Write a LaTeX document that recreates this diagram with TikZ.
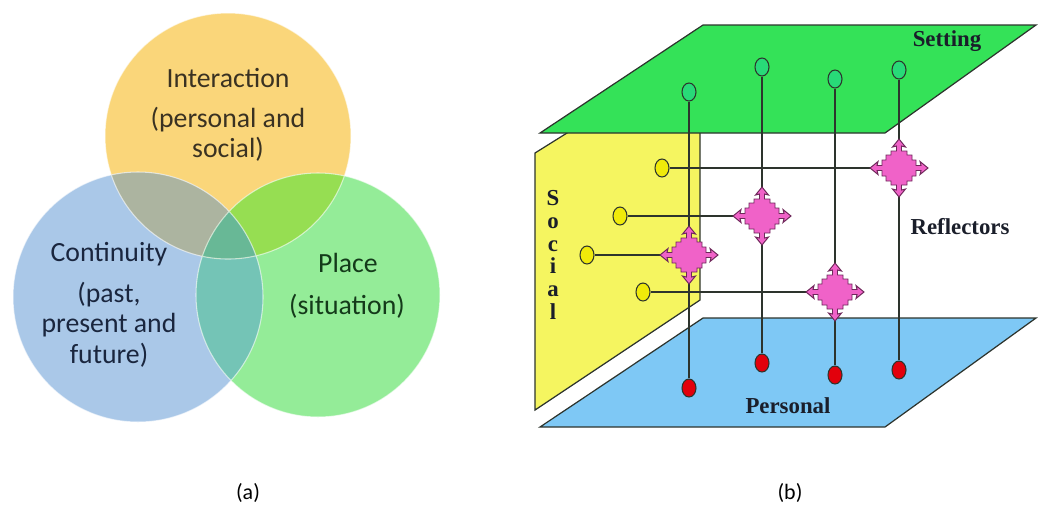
\documentclass[tikz,border=0pt]{standalone}
\usepackage{fontspec}
\setmainfont{Liberation Serif}
\newfontfamily\vennfont{Carlito}
\usetikzlibrary{shapes.geometric}

% Venn colours
\definecolor{vyel}{RGB}{250,214,122}
\definecolor{vblu}{RGB}{170,200,232}
\definecolor{vgrn}{RGB}{148,236,152}
\definecolor{vyb}{RGB}{172,180,160}
\definecolor{vyg}{RGB}{150,222,82}
\definecolor{vbg}{RGB}{116,196,182}
\definecolor{vybg}{RGB}{104,184,150}
\definecolor{tyel}{RGB}{58,50,34}
\definecolor{tblu}{RGB}{26,38,62}
\definecolor{tgrn}{RGB}{20,58,26}
% cube colours
\definecolor{pgreen}{RGB}{52,226,88}
\definecolor{pyellow}{RGB}{245,245,96}
\definecolor{pblue}{RGB}{126,200,245}
\definecolor{edge}{RGB}{45,52,45}
\definecolor{ballg}{RGB}{40,218,120}
\definecolor{bally}{RGB}{240,234,10}
\definecolor{ballr}{RGB}{226,0,12}
\definecolor{reflfill}{RGB}{240,98,200}
\definecolor{refledge}{RGB}{110,40,90}
\definecolor{labelc}{RGB}{26,30,42}

\tikzset{
  venntext/.style={font=\vennfont\fontsize{15.8}{17.2}\selectfont, align=center, inner sep=0},
  plane/.style={draw=edge, line width=0.7pt, line join=miter},
  ball/.style={ellipse, draw=edge, line width=0.6pt, minimum width=0.28cm, minimum height=0.36cm, inner sep=0},
  wire/.style={draw=edge, line width=0.7pt},
  cubelabel/.style={font=\bfseries\fontsize{13}{13}\selectfont, text=labelc, inner sep=0},
  caption/.style={font=\vennfont\fontsize{12.5}{14}\selectfont, inner sep=0},
  reflector/.pic={
    \draw[fill=reflfill, draw=refledge, line width=0.55pt, line join=miter]
      (-2.5,17) -- (-2.5,22) -- (-6.5,21) -- (0,29) -- (6.5,21) -- (2.5,22) -- (2.5,17)
      -- (8,17) -- (8,13) -- (13,13) -- (13,8) -- (17,8)
      -- (17,2.5) -- (22,2.5) -- (21,6.5) -- (29,0) -- (21,-6.5) -- (22,-2.5) -- (17,-2.5)
      -- (17,-8) -- (13,-8) -- (13,-13) -- (8,-13) -- (8,-17)
      -- (2.5,-17) -- (2.5,-22) -- (6.5,-21) -- (0,-29) -- (-6.5,-21) -- (-2.5,-22) -- (-2.5,-17)
      -- (-8,-17) -- (-8,-13) -- (-13,-13) -- (-13,-8) -- (-17,-8)
      -- (-17,-2.5) -- (-22,-2.5) -- (-21,-6.5) -- (-29,0) -- (-21,6.5) -- (-22,2.5) -- (-17,2.5)
      -- (-17,8) -- (-13,8) -- (-13,13) -- (-8,13) -- (-8,17) -- cycle;
  }
}

\begin{document}
\begin{tikzpicture}[x=0.02cm, y=-0.02cm]
\useasboundingbox (0,0) rectangle (1038,512);

% ---------- (a) three-circle Venn diagram ----------
\coordinate (Y) at (228,136);
\coordinate (B) at (138,297);
\coordinate (G) at (318,295);
\def\ry{123}\def\rb{125}\def\rg{122}

\fill[vyel] (Y) circle (\ry);
\fill[vblu] (B) circle (\rb);
\fill[vgrn] (G) circle (\rg);
\begin{scope}
  \clip (B) circle (\rb);
  \fill[vbg] (G) circle (\rg);
\end{scope}
\begin{scope}
  \clip (Y) circle (\ry);
  \fill[vyb] (B) circle (\rb);
  \fill[vyg] (G) circle (\rg);
  \clip (B) circle (\rb);
  \fill[vybg] (G) circle (\rg);
\end{scope}
\draw[white, opacity=0.6, line width=0.6pt] (Y) circle (\ry) (B) circle (\rb) (G) circle (\rg);

\node[venntext, text=tyel] (tint) at (228,78) {Interaction};
\node[venntext, text=tyel, anchor=north] (tps) at (228,107) {(personal and\\social)};
\node[venntext, text=tblu] (tcon) at (109,254) {Continuity};
\node[venntext, text=tblu, anchor=north] (tpast) at (109,282) {(past,\\present and\\future)};
\node[venntext, text=tgrn] (tpla) at (348,263) {Place};
\node[venntext, text=tgrn] (tsit) at (347,306) {(situation)};

\node[caption] (capa) at (248,493) {(a)};

% ---------- (b) reflector cube ----------
% social wall
\filldraw[plane, fill=pyellow] (535,410) -- (535,153) -- (575,128) -- (700,128) -- (700,300) -- cycle;
% setting plane (top)
\filldraw[plane, fill=pgreen] (703,25) -- (1036,25) -- (885,133) -- (540,133) -- cycle;
% personal plane (bottom)
\filldraw[plane, fill=pblue] (703,318) -- (1036,318) -- (885,427) -- (540,427) -- cycle;

% setting ends
\node[ball, fill=ballg] (g1) at (689,92) {};
\node[ball, fill=ballg] (g2) at (762,67) {};
\node[ball, fill=ballg] (g3) at (835,79) {};
\node[ball, fill=ballg] (g4) at (899,70) {};
% personal ends
\node[ball, fill=ballr] (r1) at (689,388) {};
\node[ball, fill=ballr] (r2) at (762,363) {};
\node[ball, fill=ballr] (r3) at (835,375) {};
\node[ball, fill=ballr] (r4) at (899,370) {};
% social ends
\node[ball, fill=bally] (y1) at (662,168) {};
\node[ball, fill=bally] (y2) at (620,216) {};
\node[ball, fill=bally] (y3) at (587,255) {};
\node[ball, fill=bally] (y4) at (643,292) {};
% reflector positions
\coordinate (f1) at (899,168);
\coordinate (f2) at (762,216);
\coordinate (f3) at (689,255);
\coordinate (f4) at (835,292);

\draw[wire] (g1) -- (r1);
\draw[wire] (g2) -- (r2);
\draw[wire] (g3) -- (r3);
\draw[wire] (g4) -- (r4);
\draw[wire] (y1) -- (f1);
\draw[wire] (y2) -- (f2);
\draw[wire] (y3) -- (f3);
\draw[wire] (y4) -- (f4);

\path (f1) pic {reflector};
\path (f2) pic {reflector};
\path (f3) pic {reflector};
\path (f4) pic {reflector};

\node[cubelabel] (lset) at (947,41) {Setting};
\node[cubelabel] (lref) at (960,227) {Reflectors};
\node[cubelabel] (lper) at (788,406) {Personal};
\node[cubelabel, align=center] (lsoc) at (553,255) {S\\o\\c\\i\\a\\l};

\node[caption] (capb) at (790,493) {(b)};
\end{tikzpicture}
\end{document}
